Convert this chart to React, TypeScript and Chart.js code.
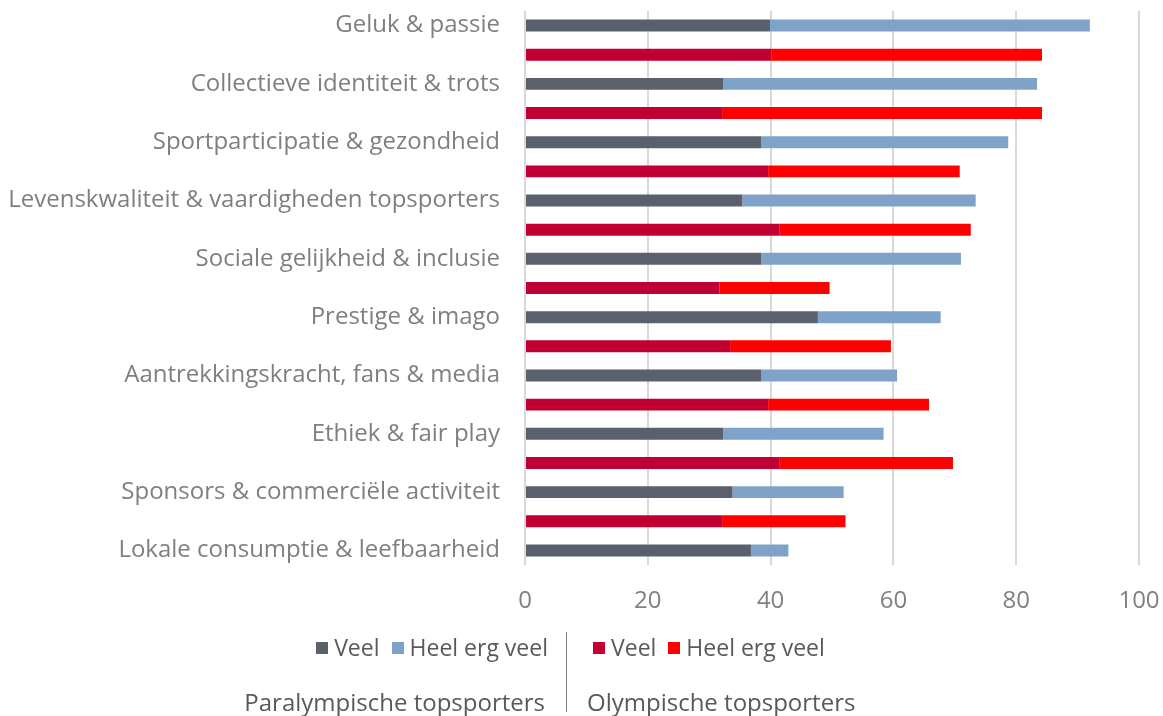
import React, { useEffect, useRef } from "react";
import { Chart, registerables } from "chart.js";

Chart.register(...registerables);

const categories = [
  "Geluk & passie",
  "Collectieve identiteit & trots",
  "Sportparticipatie & gezondheid",
  "Levenskwaliteit & vaardigheden topsporters",
  "Sociale gelijkheid & inclusie",
  "Prestige & imago",
  "Aantrekkingskracht, fans & media",
  "Ethiek & fair play",
  "Sponsors & commerciële activiteit",
  "Lokale consumptie & leefbaarheid",
];

// Paralympische topsporters
const paraVeel = [39.9, 32.3, 38.5, 35.4, 38.5, 47.7, 38.5, 32.3, 33.8, 36.8];
const paraHeelErgVeel = [52.1, 51.1, 40.2, 38.0, 32.5, 20.0, 22.1, 26.1, 18.1, 6.1];
// Olympische topsporters (row following each paralympic row)
const olyVeel = [40.1, 32.1, 39.6, 41.4, 31.7, 33.4, 39.6, 41.5, 32.1];
const olyHeelErgVeel = [44.1, 52.1, 31.2, 31.2, 17.9, 26.2, 26.2, 28.2, 20.1];

const xTicks = [0, 20, 40, 60, 80, 100];

const COLORS = {
  paraVeel: "#5a616c",
  paraHeel: "#7fa3c8",
  olyVeel: "#c00033",
  olyHeel: "#ff0000",
};

const zeroPad = (s: any) => {
  s.paddingTop = 0;
  s.paddingBottom = 0;
  s.paddingLeft = 0;
  s.paddingRight = 0;
};

export default function App() {
  const ref = useRef<HTMLCanvasElement>(null);

  useEffect(() => {
    document.body.style.margin = "0";
    const labels: string[] = [];
    const pV: (number | null)[] = [];
    const pH: (number | null)[] = [];
    const oV: (number | null)[] = [];
    const oH: (number | null)[] = [];
    categories.forEach((c, i) => {
      labels.push(c);
      pV.push(paraVeel[i]);
      pH.push(paraHeelErgVeel[i]);
      oV.push(null);
      oH.push(null);
      if (i < olyVeel.length) {
        labels.push("");
        pV.push(null);
        pH.push(null);
        oV.push(olyVeel[i]);
        oH.push(olyHeelErgVeel[i]);
      }
    });
    const ds = (label: string, data: (number | null)[], color: string) => ({
      label,
      data,
      backgroundColor: color,
      borderWidth: 0,
      barPercentage: 0.82,
      categoryPercentage: 0.5,
      stack: "s",
    });
    const chart = new Chart(ref.current!, {
      type: "bar",
      data: {
        labels,
        datasets: [
          ds("Veel", pV, COLORS.paraVeel),
          ds("Heel erg veel", pH, COLORS.paraHeel),
          ds("Veel", oV, COLORS.olyVeel),
          ds("Heel erg veel", oH, COLORS.olyHeel),
        ],
      },
      options: {
        indexAxis: "y",
        animation: false,
        responsive: false,
        maintainAspectRatio: false,
        layout: { padding: { top: 11, right: 24, bottom: 101, left: 0 } },
        plugins: { legend: { display: false }, tooltip: { enabled: false } },
        scales: {
          x: {
            stacked: true,
            min: 0,
            max: 100,
            afterBuildTicks: (s: any) => {
              s.ticks = xTicks.map((v) => ({ value: v }));
            },
            afterFit: (s: any) => {
              s.height = 50;
              zeroPad(s);
            },
            grid: { color: "#d9d9d9", lineWidth: 2, drawTicks: false },
            border: { display: false },
            ticks: {
              color: "#808080",
              padding: 22,
              font: { family: "Open Sans", size: 24 },
            },
          },
          y: {
            stacked: true,
            afterFit: (s: any) => {
              s.width = 525;
              zeroPad(s);
            },
            grid: { display: false },
            border: { display: false },
            ticks: {
              color: "#7f7f7f",
              padding: 17,
              autoSkip: false,
              font: { family: "Open Sans", size: 24 },
            },
          },
        },
      },
    });
    return () => chart.destroy();
  }, []);

  const txt: React.CSSProperties = {
    fontFamily: "Open Sans",
    fontSize: 23,
    color: "#595959",
    whiteSpace: "nowrap",
    lineHeight: "28px",
  };
  const sq = (c: string): React.CSSProperties => ({
    display: "inline-block",
    width: 12,
    height: 12,
    background: c,
    marginRight: 6,
    position: "relative",
    top: 1,
  });

  return (
    <div style={{ position: "absolute", left: 0, top: 0, width: 1163, height: 716 }}>
      <canvas ref={ref} width={1163} height={716} style={{ display: "block" }} />
      <div style={{ ...txt, position: "absolute", right: 1163 - 548, top: 633, display: "flex", alignItems: "center" }}>
        <span style={sq(COLORS.paraVeel)} />
        <span style={{ marginRight: 12 }}>Veel</span>
        <span style={sq(COLORS.paraHeel)} />
        <span>Heel erg veel</span>
      </div>
      <div style={{ ...txt, position: "absolute", left: 593, top: 633, display: "flex", alignItems: "center" }}>
        <span style={sq(COLORS.olyVeel)} />
        <span style={{ marginRight: 12 }}>Veel</span>
        <span style={sq(COLORS.olyHeel)} />
        <span>Heel erg veel</span>
      </div>
      <div style={{ position: "absolute", left: 566, top: 632, width: 1, height: 80, background: "#7f7f7f" }} />
      <div style={{ ...txt, fontSize: 24, position: "absolute", right: 1163 - 545, top: 688 }}>Paralympische topsporters</div>
      <div style={{ ...txt, fontSize: 24, position: "absolute", left: 587, top: 688 }}>Olympische topsporters</div>
    </div>
  );
}
